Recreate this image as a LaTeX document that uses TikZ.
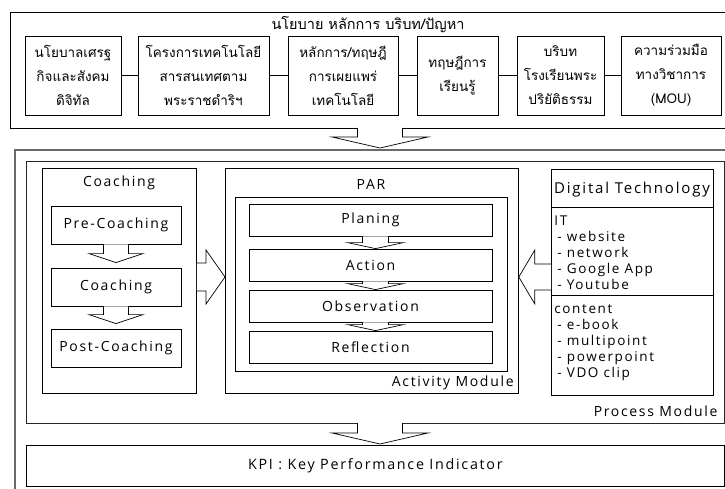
\documentclass[tikz,border=0pt]{standalone}
\usepackage{fontspec}
\setmainfont[LetterSpace=12]{Open Sans}
\newfontfamily\thaifont[Script=Thai]{Loma}
\usetikzlibrary{calc,positioning}
\definecolor{frame1}{HTML}{6A6A6A}
% block arrow from #1 to tip #2: half stem #3, half head #4, head length #5
\newcommand{\blockarrow}[5]{%
\coordinate (ba-h) at ($#2!#5!#1$);
\draw[block arrow] ($#1!#3!90:#2$) -- ($(ba-h)!#3!90:#2$) -- ($(ba-h)!#4!90:#2$) -- #2
  -- ($(ba-h)!#4!-90:#2$) -- ($(ba-h)!#3!-90:#2$) -- ($#1!#3!-90:#2$);}

\begin{document}
\begin{tikzpicture}[x=1pt,y=-1pt,line width=0.8pt,draw=black]
\tikzstyle{box}=[draw,rectangle,inner sep=0pt,align=center]
\tikzstyle{thai box}=[box,minimum height=79,font=\thaifont\fontsize{13.5}{24}\selectfont]
\tikzstyle{step box}=[box,font=\fontsize{14}{16}\selectfont]
\tikzstyle{block arrow}=[draw=black,fill=white,line width=0.7pt]
\tikzstyle{annot}=[inner sep=0pt,font=\fontsize{14}{16}\selectfont]
\tikzstyle{list}=[inner sep=0pt,anchor=base west,font=\fontsize{13.5}{16}\selectfont]

\useasboundingbox (0,0) rectangle (725,489);
\clip (0,0) rectangle (725,489);

%%%
%% TOP: policy and context
%%%
\node[box,minimum width=730,minimum height=116,anchor=north west] (policy) at (10,12) {};
\node[font=\thaifont\fontsize{14.5}{16}\selectfont] (title) at (368,25) {นโยบาย หลักการ บริบท/ปัญหา};

% Draw the six input boxes
\node[thai box,minimum width=96] (p1) at (73,75.5) {นโยบาลเศรฐ\\กิจและสังคม\\ดิจิทัล};
\node[thai box,minimum width=131] (p2) at (203.5,75.5) {โครงการเทคโนโลยี\\สารสนเทศตาม\\พระราชดำริฯ};
\node[thai box,minimum width=110] (p3) at (343,75.5) {หลักการ/ทฤษฎี\\การเผยแพร่\\เทคโนโลยี};
\node[thai box,minimum width=81] (p4) at (457.5,75.5) {ทฤษฎีการ\\เรียนรู้};
\node[thai box,minimum width=87] (p5) at (560.5,75.5) {บริบท\\โรงเรียนพระ\\ปริยัติธรรม};
\node[thai box,minimum width=100] (p6) at (671,75.5) {ความร่วมมือ\\ทางวิชาการ\\(MOU)};

% Link the boxes side by side
\foreach \a/\b in {p1/p2,p2/p3,p3/p4,p4/p5,p5/p6}
\draw (\a) -- (\b);

%%%
%% MIDDLE: process module
%%%
\node[draw=frame1,line width=1.6pt,rectangle,minimum width=760,minimum height=400,anchor=north west] (outer) at (14,149) {};
\node[box,draw=black!85,minimum width=698,minimum height=262,anchor=north west] (process) at (26,161) {};
\node[annot,anchor=base east] (proclabel) at ($(process.south east)+(-7,-7)$) {Process Module};

% Draw the coaching column
\node[box,minimum width=154,minimum height=225,anchor=north west] (coaching) at (42,168) {};
\node[annot] (coachtitle) at (119,183) {Coaching};
\node[step box,minimum width=130,minimum height=38] (pre) at (116,225) {Pre-Coaching};
\node[step box,minimum width=130,minimum height=38] (coach) at (116,287) {Coaching};
\node[step box,minimum width=130,minimum height=38] (post) at (116,348) {Post-Coaching};

% Draw the PAR cycle
\node[box,minimum width=293,minimum height=225,anchor=north west] (par) at (225,168) {};
\node[annot] (partitle) at (371,184) {PAR};
\node[box,minimum width=272,minimum height=174,anchor=north west] (cycle) at (235,197) {};
\node[step box,minimum width=243,minimum height=32] (plan) at (370.5,220) {Planing};
\node[step box,minimum width=243,minimum height=32] (act) at (370.5,265) {Action};
\node[step box,minimum width=243,minimum height=32] (obs) at (370.5,306) {Observation};
\node[step box,minimum width=243,minimum height=32] (refl) at (370.5,347) {Reflection};
\node[annot,anchor=base east] (actlabel) at (514,386) {Activity Module};

% Draw the digital technology table
\node[box,minimum width=162,minimum height=226,anchor=north west] (digital) at (551,169) {};
\coordinate (div1) at (0,207);
\coordinate (div2) at (0,295);
\draw (digital.west |- div1) -- (digital.east |- div1);
\draw (digital.west |- div2) -- (digital.east |- div2);
\node[annot,font=\fontsize{15}{16}\selectfont] (digtitle) at (632,190) {Digital Technology};
\node[list] (it) at (554,225) {IT};
\foreach \item [count=\i] in {website,network,Google App,Youtube}
\node[list] (it-\i) at (557,225+16*\i) {- \item};
\node[list] (cont) at (554,313) {content};
\foreach \item [count=\i] in {e-book,multipoint,powerpoint,VDO clip}
\node[list] (cont-\i) at (557,313+16*\i) {- \item};

%%%
%% BOTTOM: indicator
%%%
\node[box,minimum width=698,minimum height=41,anchor=north west,font=\fontsize{14.3}{16}\selectfont] (kpi) at (26,445) {KPI : Key Performance Indicator};

% Block arrows between the parts
\coordinate (a-top) at (380,128);
\coordinate (t-top) at (380,148);
\blockarrow{(a-top)}{(t-top)}{22.5pt}{48pt}{11pt}
\coordinate (a-bot) at (380,423);
\coordinate (t-bot) at (380,444);
\blockarrow{(a-bot)}{(t-bot)}{22.5pt}{48pt}{11pt}
\coordinate (ar) at (0,277);
\blockarrow{(coaching.east |- ar)}{(par.west |- ar)}{14pt}{27pt}{19pt}
\blockarrow{(digital.west |- ar)}{(par.east |- ar)}{13pt}{27pt}{16pt}

% Small arrows inside the columns
\foreach \a/\b in {pre/coach,coach/post} {
\coordinate (s) at (\a.south);
\coordinate (t) at ($(\b.north)+(0,-5)$);
\blockarrow{(s)}{(t)}{12.5pt}{27pt}{9pt}
}
\foreach \a/\b in {plan/act,act/obs,obs/refl} {
\coordinate (s) at ($(\a.south)+(5,0)$);
\coordinate (t) at ($(\b.north)+(5,0)$);
\blockarrow{(s)}{(t)}{13pt}{28pt}{6pt}
}
\end{tikzpicture}
\end{document}
